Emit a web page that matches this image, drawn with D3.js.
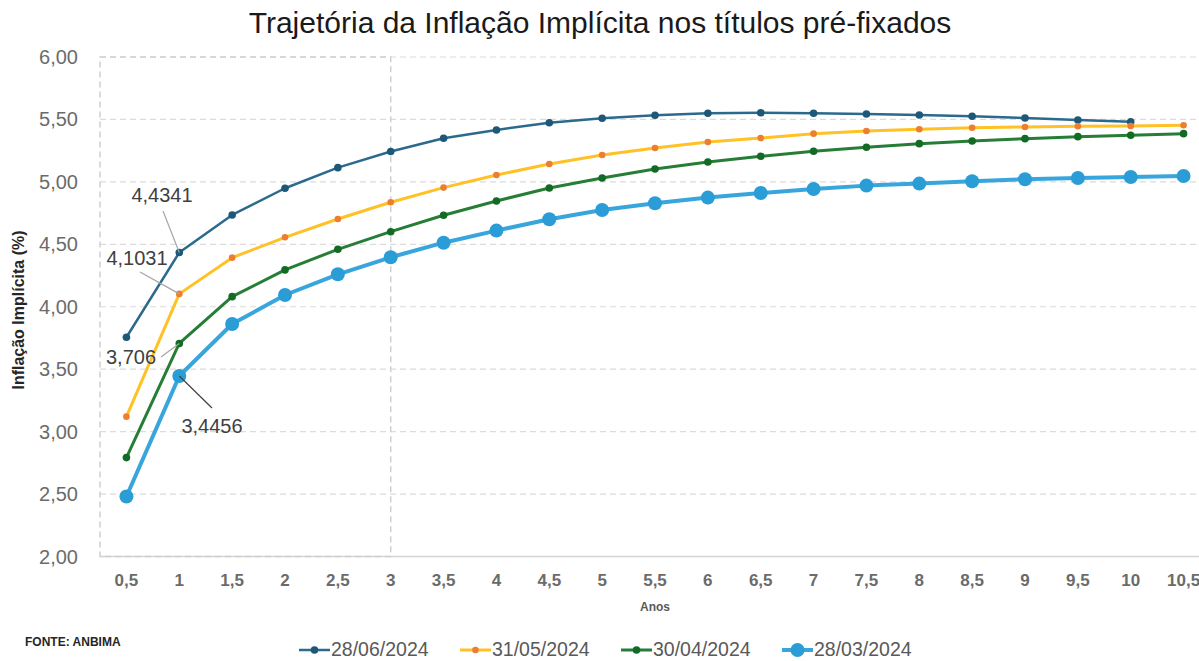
<!DOCTYPE html>
<html>
<head>
<meta charset="utf-8">
<script src="https://cdn.jsdelivr.net/npm/d3@7"></script>
<style>
  body { margin: 0; background: #fff; }
  svg { display: block; }
</style>
</head>
<body>
<div id="chart"></div>
<script>
// anos (categorias do eixo x)
const anos = ["0,5","1","1,5","2","2,5","3","3,5","4","4,5","5","5,5","6","6,5","7","7,5","8","8,5","9","9,5","10","10,5"];

// valores
const jun28 = [3.756,4.4341,4.735,4.949,5.114,5.243,5.349,5.416,5.474,5.509,5.533,5.549,5.554,5.549,5.544,5.536,5.525,5.512,5.496,5.482,null];
const mai31 = [3.12,4.1031,4.393,4.556,4.703,4.837,4.954,5.055,5.143,5.215,5.271,5.319,5.351,5.386,5.408,5.421,5.434,5.440,5.445,5.448,5.453];
const abr30 = [2.792,3.706,4.081,4.295,4.46,4.601,4.733,4.847,4.951,5.031,5.103,5.159,5.205,5.245,5.277,5.306,5.327,5.346,5.362,5.373,5.386];
const mar28 = [2.48,3.4456,3.862,4.094,4.26,4.396,4.513,4.61,4.701,4.775,4.829,4.874,4.911,4.943,4.97,4.986,5.005,5.021,5.031,5.039,5.047];

const yTicks = [2, 2.5, 3, 3.5, 4, 4.5, 5, 5.5, 6];

const series = [
  { name: "28/06/2024", values: jun28, line: "#2b6a8c", dot: "#1d5878", width: 2.5, r: 3.8 },
  { name: "31/05/2024", values: mai31, line: "#ffc124", dot: "#ed7d31", width: 3, r: 3.3 },
  { name: "30/04/2024", values: abr30, line: "#267d36", dot: "#136a25", width: 3, r: 3.8 },
  { name: "28/03/2024", values: mar28, line: "#38a6dc", dot: "#2a9dd6", width: 4, r: 7 }
];

// rótulos de dados (índice 1 = ano 1)
const rotulos = [
  { serie: 0, i: 1, text: "4,4341", tx: 162, ty: 202, lx: 163, ly: 211, color: "#a6a6a6" },
  { serie: 1, i: 1, text: "4,1031", tx: 137, ty: 265, lx: 140, ly: 272, color: "#a6a6a6" },
  { serie: 2, i: 1, text: "3,706", tx: 131, ty: 364, lx: 161, ly: 357, color: "#a6a6a6" },
  { serie: 3, i: 1, text: "3,4456", tx: 212, ty: 433, lx: 212, ly: 408, color: "#404040" }
];

const W = 1199, H = 661;
const plotLeft = 100, plotRight = 1210, plotTop = 57, plotBottom = 556.5;

const svg = d3.select("#chart").append("svg")
  .attr("width", W).attr("height", H);

const x = d3.scalePoint().domain(anos).range([plotLeft, plotRight]).padding(0.5);
const y = d3.scaleLinear().domain([2, 6]).range([plotBottom, plotTop]);

// grade horizontal
svg.append("g")
  .selectAll("line")
  .data(yTicks.filter(d => d > 2))
  .join("line")
  .attr("x1", plotLeft).attr("x2", W)
  .attr("y1", d => y(d)).attr("y2", d => y(d))
  .attr("stroke", "#dcdcdc")
  .attr("stroke-width", 1.2)
  .attr("stroke-dasharray", "6,4");

// eixo x (linha)
svg.append("line")
  .attr("x1", plotLeft).attr("x2", W)
  .attr("y1", plotBottom).attr("y2", plotBottom)
  .attr("stroke", "#d4d4d4").attr("stroke-width", 1.5);

// retângulo tracejado até 3 anos
const xr = x("3");
svg.append("rect")
  .attr("x", plotLeft).attr("y", plotTop)
  .attr("width", xr - plotLeft).attr("height", plotBottom - plotTop)
  .attr("fill", "none")
  .attr("stroke", "#cfcfcf")
  .attr("stroke-width", 1.5)
  .attr("stroke-dasharray", "6,4");

// rótulos do eixo y
svg.append("g")
  .selectAll("text")
  .data(yTicks)
  .join("text")
  .attr("x", 78).attr("y", d => y(d) + 7)
  .attr("text-anchor", "end")
  .attr("font-family", "Liberation Sans, Arial, sans-serif")
  .attr("font-size", 20)
  .attr("fill", "#6b6b6b")
  .text(d => d3.format(".2f")(d).replace(".", ","));

// rótulos do eixo x
svg.append("g")
  .selectAll("text")
  .data(anos)
  .join("text")
  .attr("x", d => x(d)).attr("y", 586)
  .attr("text-anchor", "middle")
  .attr("font-family", "Liberation Sans, sans-serif")
  .attr("font-weight", "bold")
  .attr("font-size", 17)
  .attr("fill", "#6b6b6b")
  .text(d => d);

// títulos dos eixos
svg.append("text")
  .attr("x", x("5,5")).attr("y", 611)
  .attr("text-anchor", "middle")
  .attr("font-family", "Liberation Sans, sans-serif")
  .attr("font-weight", "bold")
  .attr("font-size", 12)
  .attr("fill", "#595959")
  .text("Anos");

svg.append("text")
  .attr("transform", `translate(24, 310) rotate(-90)`)
  .attr("text-anchor", "middle")
  .attr("font-family", "Liberation Sans, Arial, sans-serif")
  .attr("font-weight", "bold")
  .attr("font-size", 16)
  .attr("fill", "#262626")
  .text("Inflação Implícita (%)");

// título
svg.append("text")
  .attr("x", 600).attr("y", 33)
  .attr("text-anchor", "middle")
  .attr("font-family", "Liberation Sans, sans-serif")
  .attr("font-size", 30)
  .attr("fill", "#1a1a1a")
  .text("Trajetória da Inflação Implícita nos títulos pré-fixados");

// linhas
const line = d3.line()
  .defined(d => d != null)
  .x((d, i) => x(anos[i]))
  .y(d => y(d));

series.forEach(s => {
  const g = svg.append("g");
  g.append("path")
    .attr("d", line(s.values))
    .attr("fill", "none")
    .attr("stroke", s.line)
    .attr("stroke-width", s.width)
    .attr("stroke-linejoin", "round");
  g.selectAll("circle")
    .data(s.values.map((v, i) => ({ v, i })).filter(d => d.v != null))
    .join("circle")
    .attr("cx", d => x(anos[d.i]))
    .attr("cy", d => y(d.v))
    .attr("r", s.r)
    .attr("fill", s.dot);
});

// rótulos de dados com linhas de chamada
rotulos.forEach(r => {
  const s = series[r.serie];
  svg.append("line")
    .attr("x1", r.lx).attr("y1", r.ly)
    .attr("x2", x(anos[r.i])).attr("y2", y(s.values[r.i]))
    .attr("stroke", r.color).attr("stroke-width", 1.2);
  svg.append("text")
    .attr("x", r.tx).attr("y", r.ty)
    .attr("text-anchor", "middle")
    .attr("font-family", "Liberation Sans, Arial, sans-serif")
    .attr("font-size", 20)
    .attr("fill", "#404040")
    .text(r.text);
});

// fonte
svg.append("text")
  .attr("x", 25).attr("y", 646)
  .attr("font-family", "Liberation Sans, sans-serif")
  .attr("font-weight", "bold")
  .attr("font-size", 12)
  .attr("fill", "#262626")
  .text("FONTE: ANBIMA");

// legenda
const legX = [299, 460, 621, 782];
const leg = svg.append("g");
series.forEach((s, k) => {
  const g = leg.append("g").attr("transform", `translate(${legX[k]}, 650)`);
  g.append("line")
    .attr("x1", 0).attr("x2", 31)
    .attr("stroke", s.line).attr("stroke-width", s.width);
  g.append("circle")
    .attr("cx", 15.5).attr("r", s.r)
    .attr("fill", s.dot);
  g.append("text")
    .attr("x", 32).attr("y", 6)
    .attr("font-family", "Liberation Sans, Arial, sans-serif")
    .attr("font-size", 19.5)
    .attr("fill", "#595959")
    .text(s.name);
});
</script>
</body>
</html>
